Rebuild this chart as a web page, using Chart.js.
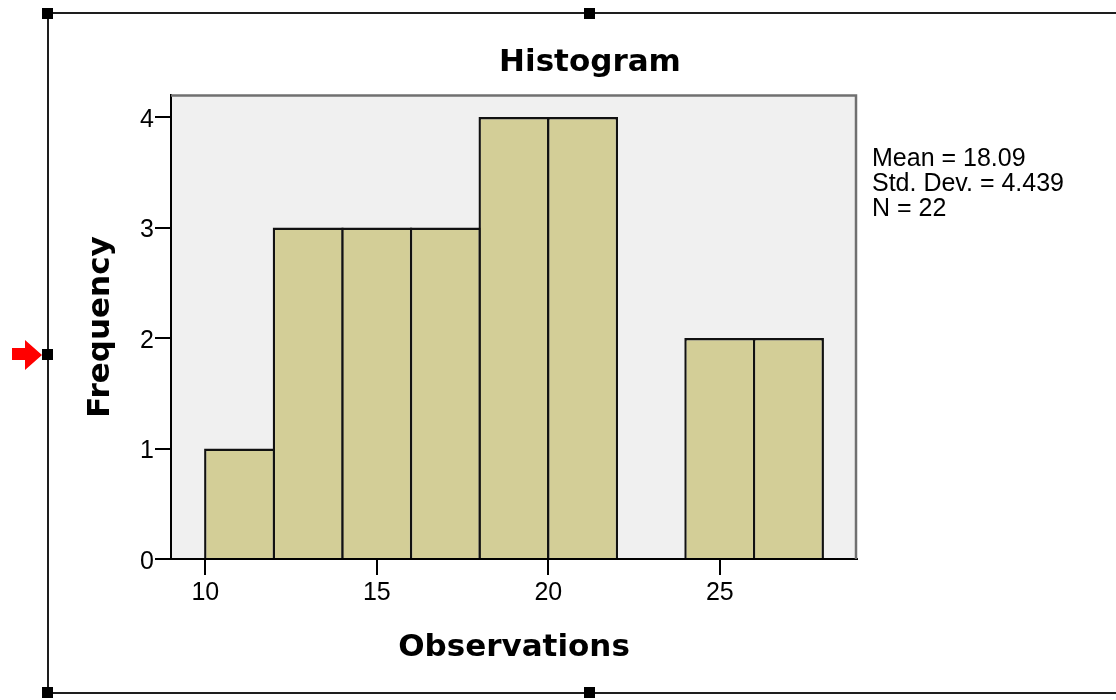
<!DOCTYPE html>
<html><head><meta charset="utf-8">
<script src="https://cdn.jsdelivr.net/npm/chart.js@4.4.1/dist/chart.umd.min.js"></script>
<style>
html,body{margin:0;padding:0;width:1116px;height:700px;overflow:hidden;background:#fff;}
#wrap{position:absolute;left:0;top:0;width:1180px;height:700px;}
canvas{display:block;}
.ln{position:absolute;background:#1e1e1e;}
.sq{position:absolute;width:11px;height:11px;background:#000;}
#stats{position:absolute;left:872px;top:145px;font:25px/25px "Liberation Sans",Arial,sans-serif;color:#000;white-space:pre;}
#arrow{position:absolute;left:12px;top:340px;width:30px;height:30px;background:#f00;clip-path:polygon(0 8px,13px 8px,13px 0,30px 15px,13px 30px,13px 20px,0 20px);}
</style></head><body>
<div id="wrap"><canvas id="c" width="1180" height="700"></canvas></div>
<div class="ln" style="left:47px;top:12px;width:1069px;height:2px"></div>
<div class="ln" style="left:47px;top:12px;width:2px;height:682px"></div>
<div class="ln" style="left:47px;top:692px;width:1069px;height:2px"></div>
<div class="sq" style="left:42px;top:8px"></div>
<div class="sq" style="left:584px;top:8px"></div>
<div class="sq" style="left:42px;top:349px"></div>
<div class="sq" style="left:42px;top:687px"></div>
<div class="sq" style="left:584px;top:687px"></div>
<div id="arrow"></div>
<div id="stats"></div>
<script>
const binStarts = [10, 12, 14, 16, 18, 20, 22, 24, 26];
const binWidth = 2;
const frequencies = [1, 3, 3, 3, 4, 4, 0, 2, 2];
const xTickValues = [10, 15, 20, 25];
const yTickValues = [0, 1, 2, 3, 4];
const statLabels = ['Mean', 'Std. Dev.', 'N'];
const statValues = ['18.09', '4.439', '22'];

document.getElementById('stats').textContent =
  statLabels.map((l, i) => l + ' = ' + statValues[i]).join('\n');

const points = binStarts.map((s, i) => ({ x: s + binWidth / 2, y: frequencies[i] }));

const boldFont = { family: '"DejaVu Sans", sans-serif', size: 31, weight: 'bold', lineHeight: 1.2 };
const tickFont = { family: '"Liberation Sans", Arial, sans-serif', size: 25, lineHeight: 1.2 };

const plotFrame = {
  id: 'plotFrame',
  beforeDraw(chart) {
    const { ctx, chartArea: a } = chart;
    ctx.save();
    ctx.fillStyle = '#f0f0f0';
    ctx.fillRect(a.left, a.top, a.right - a.left, a.bottom - a.top);
    ctx.restore();
  },
  beforeDatasetsDraw(chart) {
    const { ctx, chartArea: a } = chart;
    ctx.save();
    ctx.strokeStyle = '#707070';
    ctx.lineWidth = 2.5;
    ctx.beginPath();
    ctx.moveTo(a.left, a.top + 0.5);
    ctx.lineTo(a.right - 1, a.top + 0.5);
    ctx.lineTo(a.right - 1, a.bottom);
    ctx.stroke();
    ctx.restore();
  }
};

new Chart(document.getElementById('c'), {
  type: 'bar',
  data: {
    datasets: [{
      label: 'Frequency',
      data: points,
      backgroundColor: '#d3ce97',
      borderColor: '#111',
      borderWidth: 2.4,
      borderSkipped: 'start',
      barPercentage: 1.035,
      categoryPercentage: 1,
      grouped: false
    }]
  },
  options: {
    responsive: false,
    animation: false,
    devicePixelRatio: 1,
    layout: { padding: 0 },
    plugins: {
      legend: { display: false },
      tooltip: { enabled: false },
      title: {
        display: true, text: 'Histogram', color: '#000', font: boldFont,
        padding: { top: 44, bottom: 13.8 }
      }
    },
    scales: {
      x: {
        type: 'linear', min: 9, max: 29, bounds: 'data', offset: false, z: 1,
        afterBuildTicks: s => { s.ticks = xTickValues.map(v => ({ value: v })); },
        afterFit: s => { s.height = 141; },
        ticks: { color: '#000', font: tickFont, padding: 3, maxRotation: 0, autoSkip: false },
        grid: { display: true, offset: false, drawOnChartArea: false, drawTicks: true, tickLength: 16, color: '#000', lineWidth: 2 },
        border: { display: true, color: '#000', width: 2 },
        title: { display: true, text: 'Observations', color: '#000', font: boldFont, padding: { top: 0, bottom: 33 } }
      },
      y: {
        type: 'linear', position: 'left', min: 0, max: 4.2, bounds: 'data', z: 1,
        afterBuildTicks: s => { s.ticks = yTickValues.map(v => ({ value: v })); },
        afterFit: s => { s.width = 171; },
        ticks: { color: '#000', font: tickFont, padding: 1, labelOffset: 3, autoSkip: false },
        grid: { display: true, offset: false, drawOnChartArea: false, drawTicks: true, tickLength: 16, color: '#000', lineWidth: 2 },
        border: { display: true, color: '#000', width: 2 },
        title: { display: true, text: 'Frequency', color: '#000', font: boldFont, padding: { top: 82, bottom: 0 } }
      },
      y2: {
        type: 'linear', position: 'right', display: true,
        afterFit: s => { s.width = 323; },
        grid: { display: false },
        border: { display: false },
        ticks: { display: false },
        title: { display: false }
      }
    }
  },
  plugins: [plotFrame]
});
</script>
</body></html>
